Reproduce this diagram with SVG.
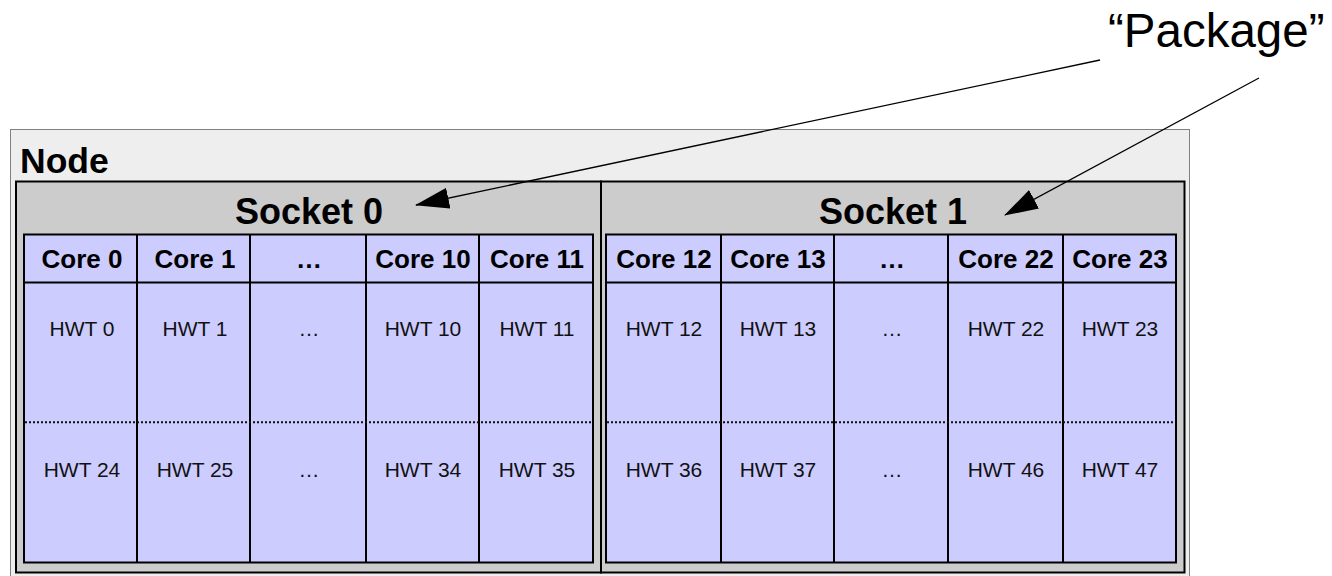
<svg xmlns="http://www.w3.org/2000/svg" width="1332" height="576" viewBox="0 0 1332 576">
<style>
.node{fill:#eeeeee;stroke:#808080;stroke-width:1}
.sock{fill:#cccccc;stroke:#000;stroke-width:2}
.core{fill:#ccccff;stroke:#000;stroke-width:2}
.div{stroke:#000;stroke-width:2}
.dot{stroke:#111;stroke-width:2;stroke-dasharray:2,2;fill:none}
.t-node{font-family:"Liberation Sans",Arial,sans-serif;font-weight:bold;font-size:35.5px;fill:#000}
.t-sock{font-family:"Liberation Sans",Arial,sans-serif;font-weight:bold;font-size:36px;fill:#000;text-anchor:middle}
.t-core{font-family:"Liberation Sans",Arial,sans-serif;font-weight:bold;font-size:26px;fill:#000;text-anchor:middle}
.t-hwt{font-family:"Liberation Sans",Arial,sans-serif;font-size:21px;fill:#111;text-anchor:middle}
.t-pkg{font-family:"Liberation Sans",Arial,sans-serif;font-size:47.5px;fill:#000}
.conn{stroke:#000;stroke-width:1.3;fill:none;marker-end:url(#ah)}
</style>
<defs>
<marker id="ah" viewBox="0 0 34 21" markerWidth="34" markerHeight="21" refX="33" refY="10.5" orient="auto" markerUnits="userSpaceOnUse">
<path d="M0,0 L34,10.5 L0,21 z" fill="#000"/>
</marker>
</defs>
<g id="node">
<rect class="node" x="10.5" y="129.5" width="1179" height="450"/>
<text class="t-node" x="20" y="173">Node</text>
</g>
<g id="socket0">
<rect class="sock" x="16" y="181.5" width="585" height="391"/>
<text class="t-sock" x="309" y="224">Socket 0</text>
</g>
<g id="socket1">
<rect class="sock" x="601" y="181.5" width="583.5" height="391"/>
<text class="t-sock" x="893" y="224">Socket 1</text>
</g>
<g id="cores0">
<rect class="core" x="24" y="234.5" width="569" height="328"/>
<line class="div" x1="24" y1="282.5" x2="593" y2="282.5"/>
<line class="div" x1="137" y1="234.5" x2="137" y2="562.5"/>
<line class="div" x1="250" y1="234.5" x2="250" y2="562.5"/>
<line class="div" x1="366" y1="234.5" x2="366" y2="562.5"/>
<line class="div" x1="479" y1="234.5" x2="479" y2="562.5"/>
<line class="dot" x1="25" y1="422.3" x2="592" y2="422.3"/>
</g>
<g id="cores1">
<rect class="core" x="606" y="234.5" width="570" height="328"/>
<line class="div" x1="606" y1="282.5" x2="1176" y2="282.5"/>
<line class="div" x1="721" y1="234.5" x2="721" y2="562.5"/>
<line class="div" x1="834" y1="234.5" x2="834" y2="562.5"/>
<line class="div" x1="948" y1="234.5" x2="948" y2="562.5"/>
<line class="div" x1="1063" y1="234.5" x2="1063" y2="562.5"/>
<line class="dot" x1="607" y1="422.3" x2="1175" y2="422.3"/>
</g>
<g id="core0"><text class="t-core" x="82" y="268">Core 0</text><text class="t-hwt" x="82" y="336">HWT 0</text><text class="t-hwt" x="82" y="477">HWT 24</text></g>
<g id="core1"><text class="t-core" x="195" y="268">Core 1</text><text class="t-hwt" x="195" y="336">HWT 1</text><text class="t-hwt" x="195" y="477">HWT 25</text></g>
<g id="core_dots0"><text class="t-core" x="309" y="268">…</text><text class="t-hwt" x="309" y="336">…</text><text class="t-hwt" x="309" y="477">…</text></g>
<g id="core10"><text class="t-core" x="423" y="268">Core 10</text><text class="t-hwt" x="423" y="336">HWT 10</text><text class="t-hwt" x="423" y="477">HWT 34</text></g>
<g id="core11"><text class="t-core" x="537" y="268">Core 11</text><text class="t-hwt" x="537" y="336">HWT 11</text><text class="t-hwt" x="537" y="477">HWT 35</text></g>
<g id="core12"><text class="t-core" x="664" y="268">Core 12</text><text class="t-hwt" x="664" y="336">HWT 12</text><text class="t-hwt" x="664" y="477">HWT 36</text></g>
<g id="core13"><text class="t-core" x="778" y="268">Core 13</text><text class="t-hwt" x="778" y="336">HWT 13</text><text class="t-hwt" x="778" y="477">HWT 37</text></g>
<g id="core_dots1"><text class="t-core" x="892" y="268">…</text><text class="t-hwt" x="892" y="336">…</text><text class="t-hwt" x="892" y="477">…</text></g>
<g id="core22"><text class="t-core" x="1006" y="268">Core 22</text><text class="t-hwt" x="1006" y="336">HWT 22</text><text class="t-hwt" x="1006" y="477">HWT 46</text></g>
<g id="core23"><text class="t-core" x="1120" y="268">Core 23</text><text class="t-hwt" x="1120" y="336">HWT 23</text><text class="t-hwt" x="1120" y="477">HWT 47</text></g>
<g id="package"><text class="t-pkg" x="1108" y="47">“Package”</text></g>
<g id="connectors">
<line class="conn" x1="1100" y1="60" x2="416" y2="205"/>
<line class="conn" x1="1259" y1="78" x2="1005" y2="215"/>
</g>
</svg>
